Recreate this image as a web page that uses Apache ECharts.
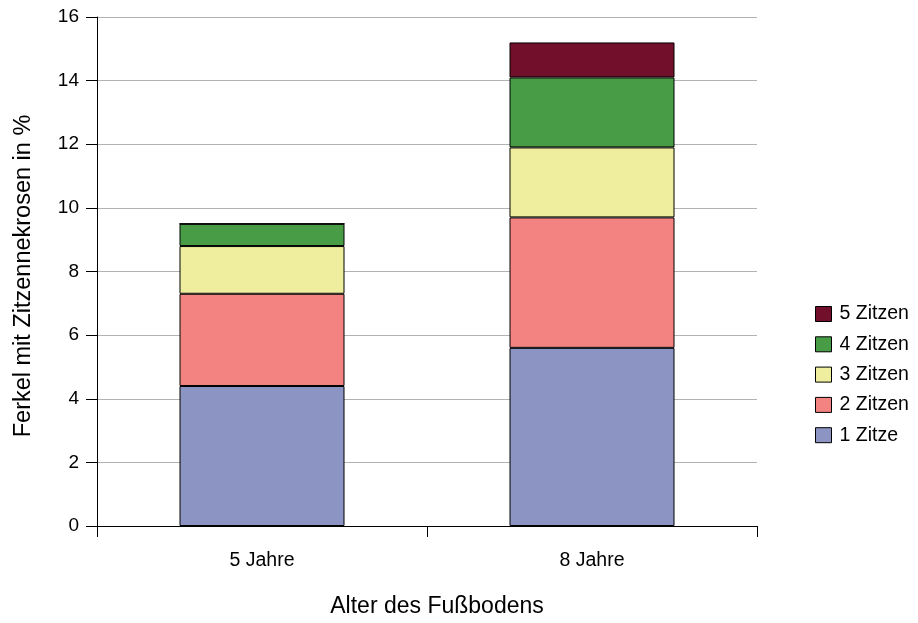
<!DOCTYPE html>
<html>
<head>
<meta charset="utf-8">
<script src="https://cdn.jsdelivr.net/npm/echarts@6/dist/echarts.min.js"></script>
<style>
  html, body { margin: 0; padding: 0; background: #ffffff; }
  #chart { width: 918px; height: 623px; }
</style>
</head>
<body>
<div id="chart"></div>
<script>
// Floor age groups on the x axis
const categories = ['5 Jahre', '8 Jahre'];

// Share of piglets with teat necrosis (%), split by number of affected teats
const zitze1 = [4.4, 5.6];
const zitzen2 = [2.9, 4.1];
const zitzen3 = [1.5, 2.2];
const zitzen4 = [0.7, 2.2];
const zitzen5 = [0, 1.1];

const yTicks = { min: 0, max: 16, interval: 2 };

const seriesDefs = [
  { name: '1 Zitze', data: zitze1, color: '#8c94c3' },
  { name: '2 Zitzen', data: zitzen2, color: '#f28380' },
  { name: '3 Zitzen', data: zitzen3, color: '#eeee9e' },
  { name: '4 Zitzen', data: zitzen4, color: '#499c46' },
  { name: '5 Zitzen', data: zitzen5, color: '#72102b' }
];

const font = 'Liberation Sans, Arial, sans-serif';

const chart = echarts.init(document.getElementById('chart'), null, { renderer: 'canvas' });

chart.setOption({
  animation: false,
  backgroundColor: '#ffffff',
  grid: { left: 97, right: 161, top: 17, bottom: 96, containLabel: false },
  legend: {
    orient: 'vertical',
    left: 815,
    top: 304,
    padding: 0,
    itemWidth: 16,
    itemHeight: 15,
    itemGap: 10.3,
    icon: 'rect',
    textStyle: { fontFamily: font, fontSize: 19.5, color: '#000000', padding: [0, 0, 0, 3] },
    itemStyle: { borderColor: '#000000', borderWidth: 1 },
    data: ['5 Zitzen', '4 Zitzen', '3 Zitzen', '2 Zitzen', '1 Zitze']
  },
  xAxis: {
    type: 'category',
    data: categories,
    boundaryGap: true,
    name: 'Alter des Fußbodens',
    nameLocation: 'middle',
    nameGap: 69,
    nameTextStyle: { fontFamily: font, fontSize: 23, color: '#000000', padding: [0, 0, 0, 20] },
    axisLine: { lineStyle: { color: '#000000', width: 1 } },
    axisTick: { show: true, alignWithLabel: false, length: 11, lineStyle: { color: '#000000' } },
    axisLabel: { fontFamily: font, fontSize: 19.5, color: '#000000', margin: 25 },
    splitLine: { show: false }
  },
  yAxis: {
    type: 'value',
    min: yTicks.min,
    max: yTicks.max,
    interval: yTicks.interval,
    name: 'Ferkel mit Zitzennekrosen in %',
    nameLocation: 'middle',
    nameGap: 61,
    nameRotate: 90,
    nameTextStyle: { fontFamily: font, fontSize: 23.5, color: '#000000', padding: [0, 9, 0, 0] },
    axisLine: { show: true, lineStyle: { color: '#000000', width: 1 } },
    axisTick: { show: true, length: 11, lineStyle: { color: '#000000' } },
    axisLabel: { fontFamily: font, fontSize: 19, color: '#000000', margin: 18 },
    splitLine: { show: true, lineStyle: { color: '#b3b3b3', width: 1 } }
  },
  series: seriesDefs.map(s => ({
    name: s.name,
    type: 'bar',
    stack: 'total',
    barWidth: '50%',
    data: s.data,
    itemStyle: { color: s.color, borderColor: '#000000', borderWidth: 1 }
  }))
});
</script>
</body>
</html>
